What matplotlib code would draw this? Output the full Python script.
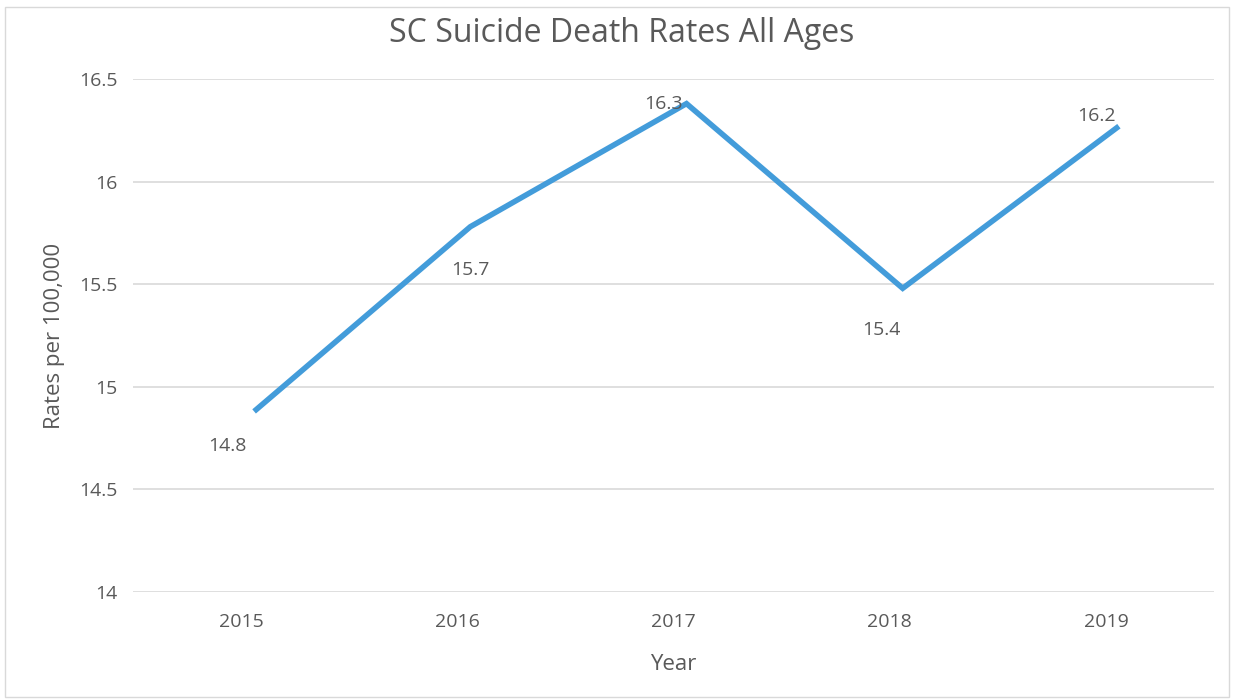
import matplotlib.pyplot as plt
import matplotlib.transforms as mtransforms
from matplotlib.patches import Rectangle

years = ["2015", "2016", "2017", "2018", "2019"]
rates = [14.88, 15.78, 16.38, 15.48, 16.27]
rate_labels = ["14.8", "15.7", "16.3", "15.4", "16.2"]
y_ticks = [14, 14.5, 15, 15.5, 16, 16.5]
y_tick_labels = ["14", "14.5", "15", "15.5", "16", "16.5"]

# label offsets in pixels (dx, dy) from each category centre
label_offsets = [(-14, -35), (13, -43), (-10, 0), (-8, -42), (-9, 10)]

text_color = "#595959"
grid_color = "#D9D9D9"
line_color = "#439CDA"
plt.rcParams["font.family"] = ["Open Sans", "DejaVu Sans"]

fig = plt.figure(figsize=(12.34, 7.0), dpi=100)
fig.patches.append(Rectangle((5 / 1234, 3 / 700), 1224 / 1234, 690 / 700,
                             transform=fig.transFigure, fill=False,
                             edgecolor="#D9D9D9", linewidth=1))
ax = fig.add_axes([133 / 1234, 1 - 592 / 700, 1081 / 1234, 513 / 700])

x = list(range(len(years)))
# the line sits a little right of the category centres in the original
shift = mtransforms.ScaledTranslation(13 / 100, 0, fig.dpi_scale_trans)
ax.plot(x, rates, color=line_color, linewidth=4, solid_capstyle="butt",
        solid_joinstyle="miter", zorder=3, transform=ax.transData + shift)

for xi, yi, lab, (dx, dy) in zip(x, rates, rate_labels, label_offsets):
    ax.annotate(lab, (xi, yi), xytext=(dx, dy), textcoords="offset pixels",
                ha="center", va="center", fontsize=14, color=text_color,
                zorder=4)

ax.set_xlim(-0.5, len(years) - 0.5)
ax.set_ylim(14, 16.5)
ax.set_xticks(x)
ax.set_xticklabels(years)
ax.set_yticks(y_ticks)
ax.set_yticklabels(y_tick_labels)
ax.tick_params(axis="both", length=0, labelsize=14, labelcolor=text_color)
ax.tick_params(axis="x", pad=15)
ax.tick_params(axis="y", pad=11)
ax.grid(axis="y", color=grid_color, linewidth=1.2)
ax.set_axisbelow(True)
for s in ax.spines.values():
    s.set_visible(False)

ax.set_xlabel("Year", fontsize=16, color=text_color, labelpad=17)
ax.set_ylabel("Rates per 100,000", fontsize=16, color=text_color, labelpad=10)
fig.text(622 / 1234, 1 - 33 / 700, "SC Suicide Death Rates All Ages",
         fontsize=23, color=text_color, ha="center", va="center")

fig.savefig("out.png", dpi=100)
